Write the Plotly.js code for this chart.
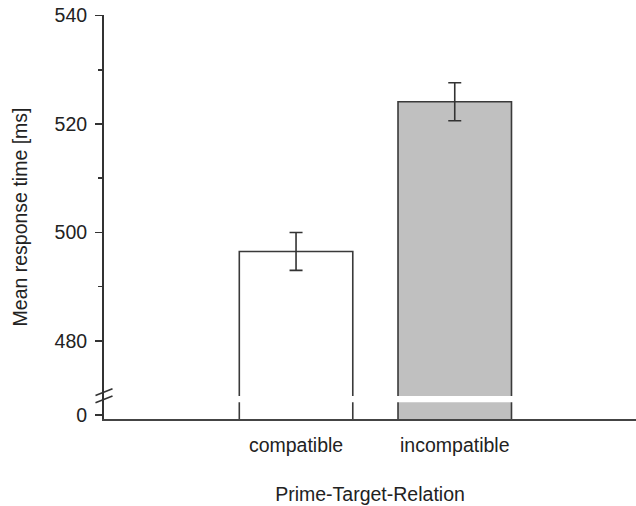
<!DOCTYPE html>
<html>
<head>
<meta charset="utf-8">
<script src="https://cdn.plot.ly/plotly-3.0.1.min.js"></script>
<style>html,body{margin:0;padding:0;background:#fff;}#chart{width:636px;height:506px;}</style>
</head>
<body>
<div id="chart"></div>
<script>
// Data
var categories = ['compatible', 'incompatible'];
var meanRT = [496.5, 524.1];
var errorRT = [3.5, 3.5];
var barColors = ['#ffffff', '#c0c0c0'];
// Y axis ticks (broken axis: bottom tick labelled 0)
var yTickVals = [466.3, 480, 500, 520, 540];
var yTickText = ['0', '480', '500', '520', '540'];
var yMinorVals = [490, 510, 530];

var font = {family: 'Liberation Sans, Arial, sans-serif', size: 19.5, color: '#222'};

var trace = {
  type: 'bar',
  x: categories,
  y: meanRT,
  width: 0.715,
  marker: {color: barColors, line: {color: '#3a3a3a', width: 1.6}},
  error_y: {type: 'data', array: errorRT, visible: true, color: '#333', thickness: 1.6, width: 6.5},
  hoverinfo: 'skip'
};

var layout = {
  width: 636, height: 506,
  margin: {l: 104, r: 0, t: 15, b: 86.5},
  paper_bgcolor: '#fff', plot_bgcolor: '#fff',
  font: font,
  showlegend: false,
  xaxis: {
    type: 'category',
    range: [-1.21, 2.142],
    showline: true, linecolor: '#444', linewidth: 2,
    ticks: '', showgrid: false, zeroline: false,
    tickfont: font, ticklabelstandoff: 8,
    title: {text: 'Prime-Target-Relation', font: font, standoff: 32}
  },
  yaxis: {
    range: [465.6, 540.1],
    showline: true, linecolor: '#333', linewidth: 2,
    showgrid: false, zeroline: false,
    tickmode: 'array', tickvals: yTickVals, ticktext: yTickText,
    ticks: 'outside', ticklen: 7, tickwidth: 1.5, tickcolor: '#333',
    minor: {tickmode: 'array', tickvals: yMinorVals, ticks: 'outside', ticklen: 4, tickwidth: 1.5, tickcolor: '#333', showgrid: false},
    tickfont: font, ticklabelstandoff: 4,
    title: {text: 'Mean response time [ms]', font: font, standoff: 22}
  },
  shapes: [
    // white gap across bars (axis break)
    {type: 'rect', xref: 'paper', yref: 'y', x0: 0.01, x1: 1, y0: 468.7, y1: 469.85,
     fillcolor: '#fff', line: {width: 0}, layer: 'above'},
    // break marks on y axis
    {type: 'line', xref: 'paper', yref: 'paper', x0: -0.016, x1: 0.016, y0: 0.058, y1: 0.075,
     line: {color: '#333', width: 1.6}},
    {type: 'line', xref: 'paper', yref: 'paper', x0: -0.016, x1: 0.016, y0: 0.040, y1: 0.057,
     line: {color: '#333', width: 1.6}}
  ]
};

Plotly.newPlot('chart', [trace], layout, {staticPlot: true, displayModeBar: false});
</script>
</body>
</html>
